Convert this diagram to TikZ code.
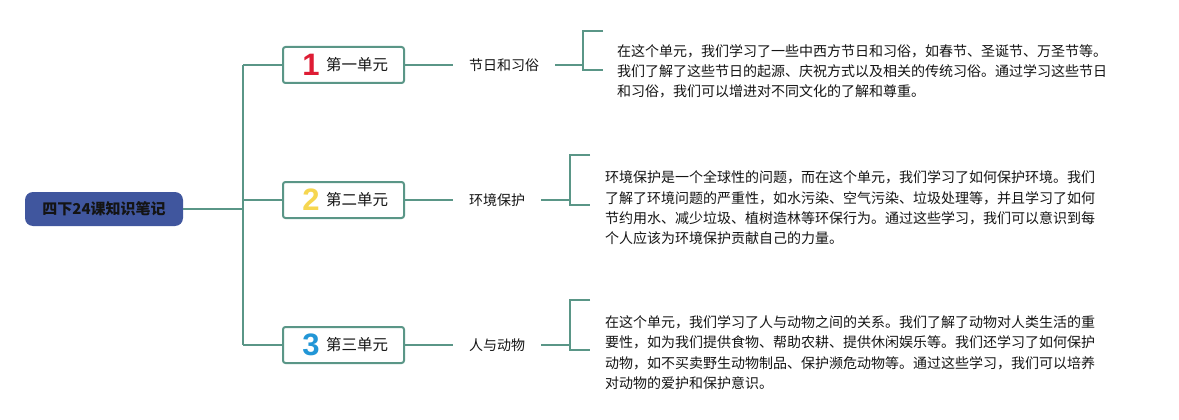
\documentclass[tikz,border=0pt]{standalone}
\usepackage{fontspec}
\setmainfont{Noto Sans CJK SC}
\newfontfamily\numfont{Liberation Sans}
\definecolor{teal1}{RGB}{90,150,135}
\definecolor{rootblue}{RGB}{64,86,158}
\definecolor{numred}{RGB}{222,28,52}
\definecolor{numyellow}{RGB}{246,214,80}
\definecolor{numblue}{RGB}{34,150,214}
\definecolor{txt}{RGB}{20,20,20}
\begin{document}
\begin{tikzpicture}[x=1pt,y=-1pt,
  conn/.style={draw=teal1,line width=2pt,line join=miter},
  root/.style={fill=rootblue,rounded corners=8pt,minimum width=158pt,minimum height=34pt,inner sep=0pt,font=\fontsize{15}{18}\selectfont\bfseries,text=txt},
  unit/.style={draw=teal1,line width=2pt,fill=white,rounded corners=2.5pt,minimum width=121pt,minimum height=36pt,inner sep=0pt},
  num/.style={inner sep=0pt,font=\numfont\bfseries\fontsize{31}{31}\selectfont},
  unittext/.style={inner sep=0pt,font=\fontsize{15.5}{18}\selectfont,text=txt},
  topic/.style={inner xsep=16pt,inner ysep=0pt,font=\fontsize{14}{17}\selectfont,text=txt},
  para/.style={font=\fontsize{14}{20.4}\selectfont,align=left,anchor=north west,inner sep=0pt,text=txt}]
\useasboundingbox (0,0) rectangle (1179,420);

% root
\node[root] (root) at (104,209) {四下24课知识笔记};
\coordinate (trunk) at (243,209);
\coordinate (t1) at (243,65);
\coordinate (t2) at (243,200);
\coordinate (t3) at (243,345);

% unit boxes
\node[unit] (u1) at (343.5,65) {};
\node[unit] (u2) at (343.5,200) {};
\node[unit] (u3) at (343.5,345) {};
\node[num,text=numred] (n1) at (311,65) {1};
\node[num,text=numyellow] (n2) at (311,200) {2};
\node[num,text=numblue] (n3) at (311,345) {3};
\node[unittext] (ut1) at (357,65) {第一单元};
\node[unittext] (ut2) at (357,200) {第二单元};
\node[unittext] (ut3) at (357,345) {第三单元};

% topics
\node[topic] (l1) at (504,65) {节日和习俗};
\node[topic] (l2) at (497,200) {环境保护};
\node[topic] (l3) at (497,345) {人与动物};

% brackets
\coordinate (b1) at (583,65);
\coordinate (b1t) at (583,31);
\coordinate (b1b) at (583,70);
\coordinate (b2) at (570,200);
\coordinate (b2t) at (570,155);
\coordinate (b2b) at (570,205);
\coordinate (b3) at (570,345);
\coordinate (b3t) at (570,300);
\coordinate (b3b) at (570,350);

% connectors
\draw[conn] (root.east) -- (trunk);
\draw[conn] (t1) -- (t3);
\draw[conn] (t1) -- (u1.west);
\draw[conn] (t2) -- (u2.west);
\draw[conn] (t3) -- (u3.west);
\draw[conn] (u1.east) -- (l1.west);
\draw[conn] (u2.east) -- (l2.west);
\draw[conn] (u3.east) -- (l3.west);
\draw[conn] (l1.east) -- (b1);
\draw[conn] (l2.east) -- (b2);
\draw[conn] (l3.east) -- (b3);
\draw[conn] ([xshift=20pt]b1t) -- (b1t) -- (b1b) -- ([xshift=20pt]b1b);
\draw[conn] ([xshift=20pt]b2t) -- (b2t) -- (b2b) -- ([xshift=20pt]b2b);
\draw[conn] ([xshift=20pt]b3t) -- (b3t) -- (b3b) -- ([xshift=20pt]b3b);

% paragraphs
\node[para] (p1) at (617,44) {在这个单元，我们学习了一些中西方节日和习俗，如春节、圣诞节、万圣节等。\\我们了解了这些节日的起源、庆祝方式以及相关的传统习俗。通过学习这些节日\\和习俗，我们可以增进对不同文化的了解和尊重。};
\node[para] (p2) at (605,170.5) {环境保护是一个全球性的问题，而在这个单元，我们学习了如何保护环境。我们\\了解了环境问题的严重性，如水污染、空气污染、垃圾处理等，并且学习了如何\\节约用水、减少垃圾、植树造林等环保行为。通过这些学习，我们可以意识到每\\个人应该为环境保护贡献自己的力量。};
\node[para] (p3) at (605,315.5) {在这个单元，我们学习了人与动物之间的关系。我们了解了动物对人类生活的重\\要性，如为我们提供食物、帮助农耕、提供休闲娱乐等。我们还学习了如何保护\\动物，如不买卖野生动物制品、保护濒危动物等。通过这些学习，我们可以培养\\对动物的爱护和保护意识。};
\end{tikzpicture}
\end{document}
